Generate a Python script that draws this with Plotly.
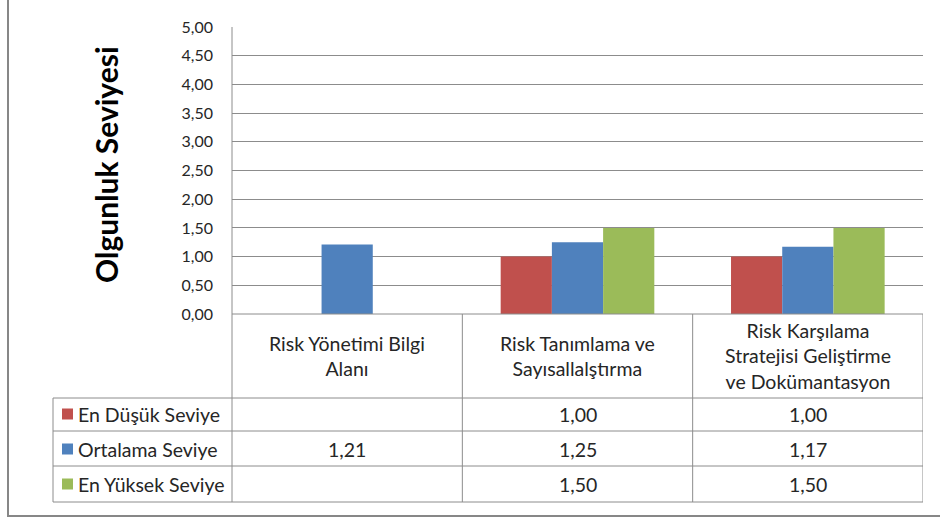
import plotly.graph_objects as go

categories = ["Risk Yönetimi Bilgi Alanı", "Risk Tanımlama ve Sayısallalştırma",
              "Risk Karşılama Stratejisi Geliştirme ve Dokümantasyon"]
category_labels = ["Risk Yönetimi Bilgi<br>Alanı", "Risk Tanımlama ve<br>Sayısallalştırma",
                   "Risk Karşılama<br>Stratejisi Geliştirme<br>ve Dokümantasyon"]
series_names = ["En Düşük Seviye", "Ortalama Seviye", "En Yüksek Seviye"]
en_dusuk = [None, 1.00, 1.00]
ortalama = [1.21, 1.25, 1.17]
en_yuksek = [None, 1.50, 1.50]
colors = ["#C0504D", "#4F81BD", "#9BBB59"]
y_title = "Olgunluk Seviyesi"

W, H = 940, 519
def px(x): return x / W
def py(y): return 1 - y / H

FONT = "Lato"
GRID = "#8c8c8c"
TXT = "#262626"
FS = 19.5

fig = go.Figure()
xs = list(range(len(categories)))
for name, vals, col in zip(series_names, [en_dusuk, ortalama, en_yuksek], colors):
    fig.add_trace(go.Bar(x=xs, y=vals, name=name, marker=dict(color=col, line=dict(width=0))))

shapes = []
annotations = []
line = dict(color=GRID, width=1)
for y in [398, 431, 466, 502]:
    shapes.append(dict(type="line", xref="paper", yref="paper", x0=px(53), x1=px(923), y0=py(y), y1=py(y), line=line))
shapes.append(dict(type="line", xref="paper", yref="paper", x0=px(232), x1=px(923), y0=py(314), y1=py(314), line=line))
shapes.append(dict(type="line", xref="paper", yref="paper", x0=px(232), x1=px(232), y0=py(27), y1=py(502), line=line))
for b in [0.5, 1.5, 2.5]:
    shapes.append(dict(type="line", xref="x", yref="paper", x0=b, x1=b, y0=py(314), y1=py(502), line=line))
shapes.append(dict(type="line", xref="paper", yref="paper", x0=px(53), x1=px(53), y0=py(398), y1=py(502), line=line))
shapes.append(dict(type="rect", xref="paper", yref="paper", x0=px(8), x1=px(960), y0=py(516), y1=py(-20),
                   line=dict(color="#878787", width=2)))

for i, lab in enumerate(category_labels):
    annotations.append(dict(x=i, xref="x", y=py(356), yref="paper", text=lab, showarrow=False,
                            xanchor="center", yanchor="middle",
                            font=dict(family=FONT, size=FS, color=TXT), align="center"))
row_y = [414, 449, 484]
def fmt(v):
    return "" if v is None else f"{v:.2f}".replace(".", ",")
for r, (name, vals, col) in enumerate(zip(series_names, [en_dusuk, ortalama, en_yuksek], colors)):
    yc = row_y[r]
    shapes.append(dict(type="rect", xref="paper", yref="paper", x0=px(62), x1=px(73), y0=py(yc + 5.5), y1=py(yc - 5.5),
                       fillcolor=col, line=dict(width=0)))
    annotations.append(dict(x=px(76), xref="paper", y=py(yc), yref="paper", text=name, showarrow=False,
                            xanchor="left", yanchor="middle", font=dict(family=FONT, size=FS, color=TXT)))
    for i, v in enumerate(vals):
        if v is not None:
            annotations.append(dict(x=i, xref="x", y=py(yc), yref="paper", text=fmt(v), showarrow=False,
                                    xanchor="center", yanchor="middle",
                                    font=dict(family=FONT, size=FS, color=TXT)))

annotations.append(dict(x=px(106), xref="paper", y=py(165), yref="paper", text="<b>" + y_title + "</b>",
                        showarrow=False, textangle=-90, xanchor="center", yanchor="middle",
                        font=dict(family=FONT, size=30, color="#000")))

fig.update_layout(
    width=W, height=H, autosize=False, margin=dict(l=0, r=0, t=0, b=0, pad=0, autoexpand=False),
    paper_bgcolor="white", plot_bgcolor="white",
    barmode="group", bargap=0.333, bargroupgap=0,
    showlegend=False, separators=",.",
    shapes=shapes, annotations=annotations,
    xaxis=dict(domain=[px(232), px(923)], range=[-0.5, 2.5], showticklabels=False, showgrid=False,
               zeroline=False, showline=False, fixedrange=True, automargin=False),
    yaxis=dict(domain=[py(314), py(27)], range=[0, 5], dtick=0.5, tickformat=".2f", showgrid=True,
               gridcolor=GRID, gridwidth=1, zeroline=False, showline=False, ticks="", automargin=False,
               ticklabelstandoff=18, tickfont=dict(family=FONT, size=16, color=TXT)),
)
fig.write_html("out.html", config={"responsive": False})
